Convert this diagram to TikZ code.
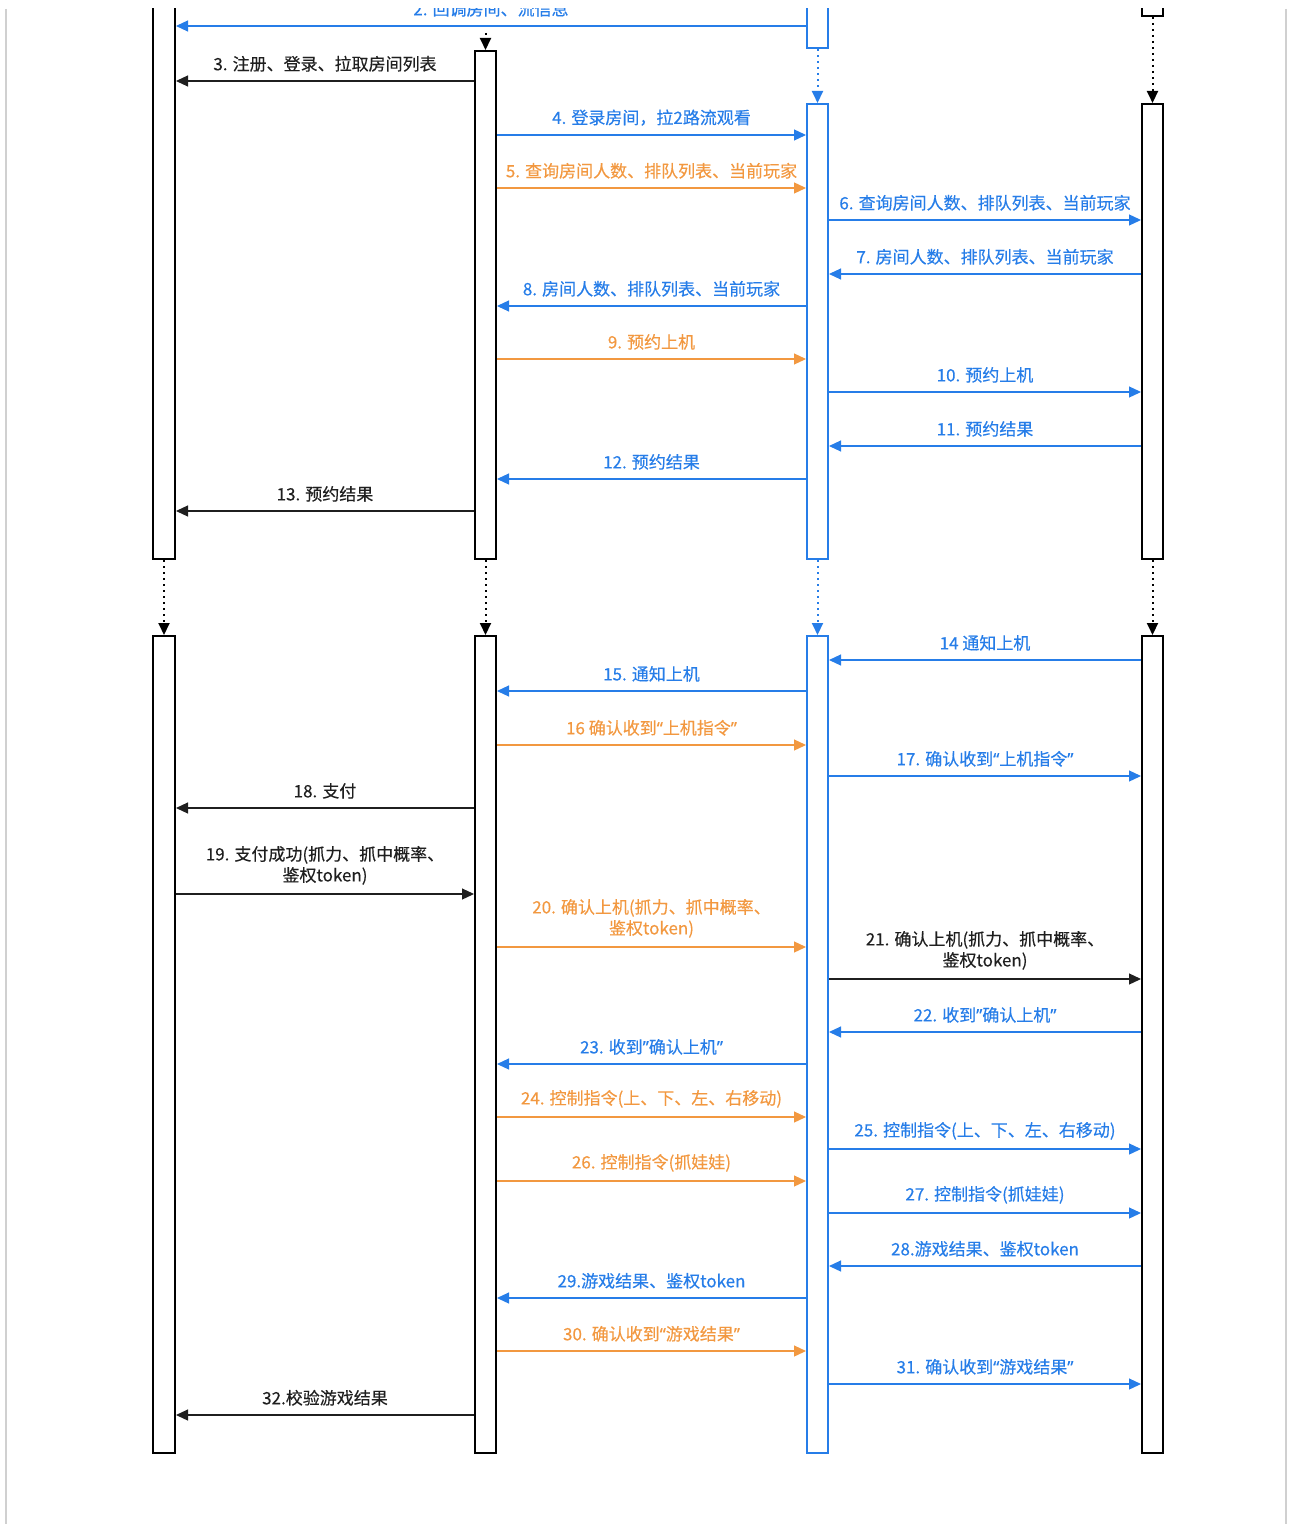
\documentclass[tikz,border=0pt]{standalone}
\usepackage{fontspec}
\setmainfont{Noto Sans CJK SC}
\newfontfamily\medcjk{Noto Sans CJK SC}[FakeBold=0.35]
\newfontfamily\quotefont{Noto Sans}[FakeBold=0.35]
\newcommand{\opq}{{\quotefont “}}
\newcommand{\clq}{{\quotefont ”}}
\usetikzlibrary{arrows.meta, fit}
\definecolor{seqblue}{RGB}{38,125,232}
\definecolor{seqorange}{RGB}{242,152,64}
\definecolor{pagegray}{RGB}{208,208,208}

\begin{document}
\begin{tikzpicture}[x=0.5pt, y=-0.5pt, >={Triangle[length=6pt,width=5.5pt]},
  actbox/.style={draw, line width=1pt, fill=white, inner sep=0pt},
  bluebox/.style={actbox, draw=seqblue},
  waitline/.style={->, dotted, line width=1pt},
  msg/.style={->, line width=0.6pt},
  msgblack/.style={msg, color=black!88},
  msgblue/.style={msg, color=seqblue},
  msgorange/.style={msg, color=seqorange},
  lbl/.style={midway, above=1pt, font=\medcjk\fontsize{8.5}{10.5}\selectfont, align=center}]
  \useasboundingbox (0,0) rectangle (1289,1524);
  \draw[pagegray, line width=1pt] (6,9) -- (6,1524) (1286,9) -- (1286,1524);

  \begin{scope}
  \clip (0,9) rectangle (1289,1524);
  \node[actbox, fit={(153,-40)(175,559)}] (a1) {};
  \node[actbox, fit={(153,636)(175,1453)}] (a2) {};
  \node[actbox, fit={(475,51)(496,559)}] (b1) {};
  \node[actbox, fit={(475,636)(496,1453)}] (b2) {};
  \node[bluebox, fit={(807,-40)(828,48)}] (c0) {};
  \node[bluebox, fit={(807,104)(828,559)}] (c1) {};
  \node[bluebox, fit={(807,636)(828,1453)}] (c2) {};
  \node[actbox, fit={(1142,-40)(1163,16)}] (d0) {};
  \node[actbox, fit={(1142,104)(1163,559)}] (d1) {};
  \node[actbox, fit={(1142,636)(1163,1453)}] (d2) {};
  \coordinate (b0) at (485.5,33);

  \draw[waitline] (b0) -- (b1.north);
  \draw[waitline, seqblue] (c0.south) -- (c1.north);
  \draw[waitline] (d0.south) -- (d1.north);
  \draw[waitline] (a1.south) -- (a2.north);
  \draw[waitline] (b1.south) -- (b2.north);
  \draw[waitline, seqblue] (c1.south) -- (c2.north);
  \draw[waitline] (d1.south) -- (d2.north);

  \draw[msgblue] (c0.west |- 0,26) -- node[lbl] {2. 回调房间、流信息} (a1.east |- 0,26);
  \draw[msgblack] (b1.west |- 0,81) -- node[lbl] {3. 注册、登录、拉取房间列表} (a1.east |- 0,81);
  \draw[msgblue] (b1.east |- 0,135) -- node[lbl] {4. 登录房间，拉2路流观看} (c1.west |- 0,135);
  \draw[msgorange] (b1.east |- 0,188) -- node[lbl] {5. 查询房间人数、排队列表、当前玩家} (c1.west |- 0,188);
  \draw[msgblue] (c1.east |- 0,220) -- node[lbl] {6. 查询房间人数、排队列表、当前玩家} (d1.west |- 0,220);
  \draw[msgblue] (d1.west |- 0,274) -- node[lbl] {7. 房间人数、排队列表、当前玩家} (c1.east |- 0,274);
  \draw[msgblue] (c1.west |- 0,306) -- node[lbl] {8. 房间人数、排队列表、当前玩家} (b1.east |- 0,306);
  \draw[msgorange] (b1.east |- 0,359) -- node[lbl] {9. 预约上机} (c1.west |- 0,359);
  \draw[msgblue] (c1.east |- 0,392) -- node[lbl] {10. 预约上机} (d1.west |- 0,392);
  \draw[msgblue] (d1.west |- 0,446) -- node[lbl] {11. 预约结果} (c1.east |- 0,446);
  \draw[msgblue] (c1.west |- 0,479) -- node[lbl] {12. 预约结果} (b1.east |- 0,479);
  \draw[msgblack] (b1.west |- 0,511) -- node[lbl] {13. 预约结果} (a1.east |- 0,511);

  \draw[msgblue] (d2.west |- 0,660) -- node[lbl] {14 通知上机} (c2.east |- 0,660);
  \draw[msgblue] (c2.west |- 0,691) -- node[lbl] {15. 通知上机} (b2.east |- 0,691);
  \draw[msgorange] (b2.east |- 0,745) -- node[lbl] {16 确认收到\opq 上机指令\clq} (c2.west |- 0,745);
  \draw[msgblue] (c2.east |- 0,776) -- node[lbl] {17. 确认收到\opq 上机指令\clq} (d2.west |- 0,776);
  \draw[msgblack] (b2.west |- 0,808) -- node[lbl] {18. 支付} (a2.east |- 0,808);
  \draw[msgblack] (a2.east |- 0,894) -- node[lbl] {19. 支付成功(抓力、抓中概率、\\鉴权token)} (b2.west |- 0,894);
  \draw[msgorange] (b2.east |- 0,947) -- node[lbl] {20. 确认上机(抓力、抓中概率、\\鉴权token)} (c2.west |- 0,947);
  \draw[msgblack] (c2.east |- 0,979) -- node[lbl] {21. 确认上机(抓力、抓中概率、\\鉴权token)} (d2.west |- 0,979);
  \draw[msgblue] (d2.west |- 0,1032) -- node[lbl] {22. 收到\clq 确认上机\clq} (c2.east |- 0,1032);
  \draw[msgblue] (c2.west |- 0,1064) -- node[lbl] {23. 收到\clq 确认上机\clq} (b2.east |- 0,1064);
  \draw[msgorange] (b2.east |- 0,1117) -- node[lbl] {24. 控制指令(上、下、左、右移动)} (c2.west |- 0,1117);
  \draw[msgblue] (c2.east |- 0,1149) -- node[lbl] {25. 控制指令(上、下、左、右移动)} (d2.west |- 0,1149);
  \draw[msgorange] (b2.east |- 0,1181) -- node[lbl] {26. 控制指令(抓娃娃)} (c2.west |- 0,1181);
  \draw[msgblue] (c2.east |- 0,1213) -- node[lbl] {27. 控制指令(抓娃娃)} (d2.west |- 0,1213);
  \draw[msgblue] (d2.west |- 0,1266) -- node[lbl] {28.游戏结果、鉴权token} (c2.east |- 0,1266);
  \draw[msgblue] (c2.west |- 0,1298) -- node[lbl] {29.游戏结果、鉴权token} (b2.east |- 0,1298);
  \draw[msgorange] (b2.east |- 0,1351) -- node[lbl] {30. 确认收到\opq 游戏结果\clq} (c2.west |- 0,1351);
  \draw[msgblue] (c2.east |- 0,1384) -- node[lbl] {31. 确认收到\opq 游戏结果\clq} (d2.west |- 0,1384);
  \draw[msgblack] (b2.west |- 0,1415) -- node[lbl] {32.校验游戏结果} (a2.east |- 0,1415);
  \end{scope}
\end{tikzpicture}
\end{document}
